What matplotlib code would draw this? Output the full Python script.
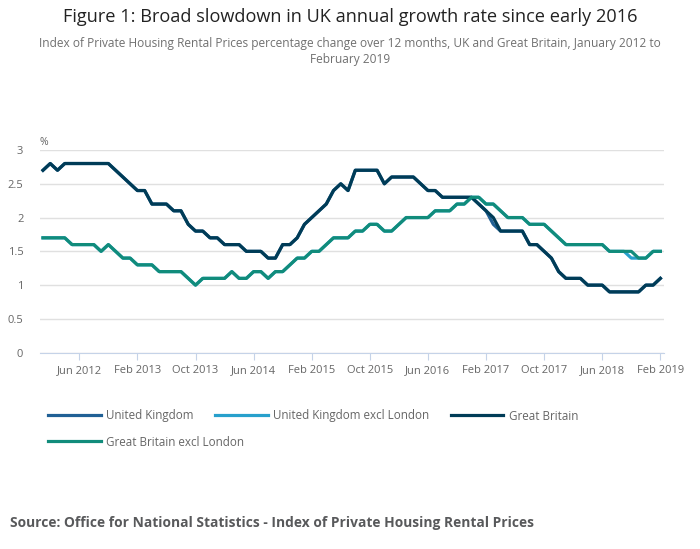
import matplotlib
matplotlib.use("Agg")
import matplotlib.pyplot as plt
import numpy as np

plt.rcParams['font.family'] = ['Open Sans', 'DejaVu Sans']

# monthly data, Jan 2012 - Feb 2019
months = 86
tick_pos = list(range(5, 86, 8))
tick_labels = ["Jun 2012", "Feb 2013", "Oct 2013", "Jun 2014", "Feb 2015", "Oct 2015",
               "Jun 2016", "Feb 2017", "Oct 2017", "Jun 2018", "Feb 2019"]

great_britain = [2.7, 2.8, 2.7, 2.8, 2.8, 2.8, 2.8, 2.8, 2.8, 2.8,
                 2.7, 2.6, 2.5, 2.4, 2.4, 2.2, 2.2, 2.2, 2.1, 2.1,
                 1.9, 1.8, 1.8, 1.7, 1.7, 1.6, 1.6, 1.6, 1.5, 1.5,
                 1.5, 1.4, 1.4, 1.6, 1.6, 1.7, 1.9, 2.0, 2.1, 2.2,
                 2.4, 2.5, 2.4, 2.7, 2.7, 2.7, 2.7, 2.5, 2.6, 2.6,
                 2.6, 2.6, 2.5, 2.4, 2.4, 2.3, 2.3, 2.3, 2.3, 2.3,
                 2.2, 2.1, 2.0, 1.8, 1.8, 1.8, 1.8, 1.6, 1.6, 1.5,
                 1.4, 1.2, 1.1, 1.1, 1.1, 1.0, 1.0, 1.0, 0.9, 0.9,
                 0.9, 0.9, 0.9, 1.0, 1.0, 1.1]
united_kingdom = list(great_britain)
united_kingdom[62] = 1.9

gb_excl_london = [1.7, 1.7, 1.7, 1.7, 1.6, 1.6, 1.6, 1.6, 1.5, 1.6,
                  1.5, 1.4, 1.4, 1.3, 1.3, 1.3, 1.2, 1.2, 1.2, 1.2,
                  1.1, 1.0, 1.1, 1.1, 1.1, 1.1, 1.2, 1.1, 1.1, 1.2,
                  1.2, 1.1, 1.2, 1.2, 1.3, 1.4, 1.4, 1.5, 1.5, 1.6,
                  1.7, 1.7, 1.7, 1.8, 1.8, 1.9, 1.9, 1.8, 1.8, 1.9,
                  2.0, 2.0, 2.0, 2.0, 2.1, 2.1, 2.1, 2.2, 2.2, 2.3,
                  2.3, 2.2, 2.2, 2.1, 2.0, 2.0, 2.0, 1.9, 1.9, 1.9,
                  1.8, 1.7, 1.6, 1.6, 1.6, 1.6, 1.6, 1.6, 1.5, 1.5,
                  1.5, 1.5, 1.4, 1.4, 1.5, 1.5]
uk_excl_london = list(gb_excl_london)
uk_excl_london[81] = 1.4

x = np.arange(months)

fig = plt.figure(figsize=(7, 5.49), dpi=100)
ax = fig.add_axes([40/700, 196.3/549, 624/700, 202.7/549])

l1, = ax.plot(x, united_kingdom, color='#206095', lw=2.3, label='United Kingdom')
l2, = ax.plot(x, uk_excl_london, color='#27a0cc', lw=2.3, label='United Kingdom excl London')
l3, = ax.plot(x, great_britain, color='#003c57', lw=2.3, label='Great Britain')
l4, = ax.plot(x, gb_excl_london, color='#118c7b', lw=2.3, label='Great Britain excl London')

ax.set_xlim(-0.41, 85.5)
ax.set_ylim(0, 3)
ax.set_yticks([0, 0.5, 1, 1.5, 2, 2.5, 3])
ax.set_yticklabels(['0', '0.5', '1', '1.5', '2', '2.5', '3'])
ax.set_xticks(tick_pos)
ax.set_xticklabels(tick_labels)
ax.grid(axis='y', color='#e0e0e0', lw=1)
ax.set_axisbelow(True)
for s in ['top', 'right', 'left']:
    ax.spines[s].set_visible(False)
ax.spines['bottom'].set_color('#c5d3e8')
ax.tick_params(axis='x', colors='#c5d3e8', labelcolor='#666666', length=5, labelsize=8, pad=4)
ax.tick_params(axis='y', length=0, labelcolor='#666666', labelsize=8, pad=12)
fig.text(40/700, 1 - 143/549, '%', color='#666666', fontsize=7.5, va='center')

fig.text(0.5, 1 - 17.5/549, 'Figure 1: Broad slowdown in UK annual growth rate since early 2016',
         ha='center', va='center', fontsize=13.1, color='#222222')
fig.text(0.5, 1 - 43.5/549, 'Index of Private Housing Rental Prices percentage change over 12 months, UK and Great Britain, January 2012 to',
         ha='center', va='center', fontsize=8.55, color='#707070')
fig.text(0.5, 1 - 59.5/549, 'February 2019', ha='center', va='center', fontsize=8.55, color='#707070')

# legend: one entry per call, placed like the reference
leg_kw = dict(frameon=False, fontsize=8.4, handlelength=4.5, handletextpad=0.5,
              borderpad=0, borderaxespad=0, loc='center left', labelcolor='#666666')
leg_pos = [(48, 416), (215, 416), (451, 416), (48, 442)]
for line, (px, py) in zip([l1, l2, l3, l4], leg_pos):
    fig.legend([line], [line.get_label()], bbox_to_anchor=(px/700, 1 - py/549), **leg_kw)

fig.text(10/700, 1 - 523/549, 'Source: Office for National Statistics - Index of Private Housing Rental Prices',
         ha='left', va='center', fontsize=9.95, fontweight='bold', color='#58595b')

fig.savefig('out.png', dpi=100)
